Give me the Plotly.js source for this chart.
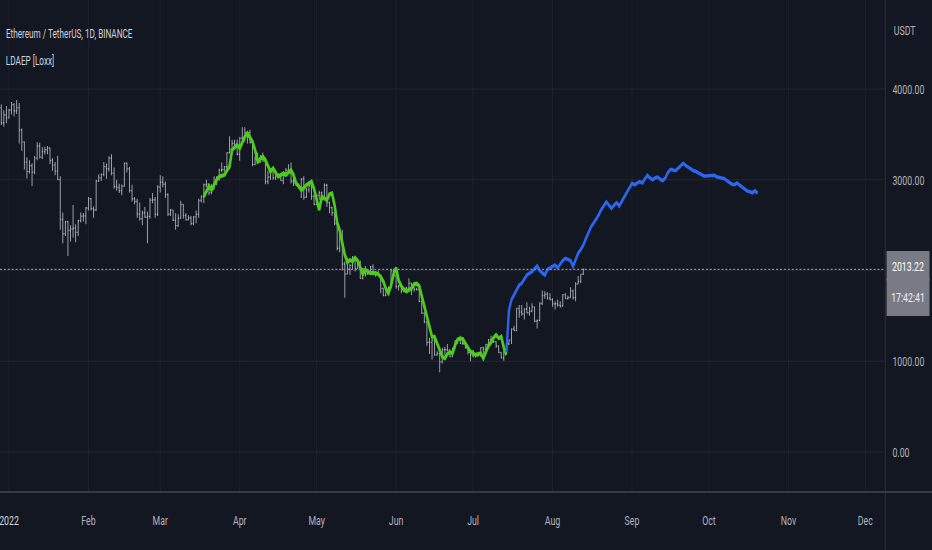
<!DOCTYPE html>
<html>
<head>
<meta charset="utf-8">
<script src="https://cdn.plot.ly/plotly-3.0.1.min.js"></script>
<style>
html,body{margin:0;padding:0;background:#131722;overflow:hidden;}
#wrap{width:932px;height:550px;overflow:hidden;background:#131722;position:relative;}
#chart{width:1434px;height:550px;transform:scaleX(0.65);transform-origin:0 0;}
</style>
</head>
<body>
<div id="wrap"><div id="chart"></div></div>
<script>
// ---------- DATA ----------
const barStart = '2021-12-29';
const barOpen = [3795,3628,3713,
3682,3769,3829,3761,3795,3549,3417,3194,3090,3155,3084,3238,3372,3249,3310,3330,3350,3212,3164,3095,3001,2562,2405,2539,2440,2458,2468,2420,2548,2599,2602,
2688,2790,2682,2666,2988,3021,3059,3145,3121,3237,3073,2926,2914,2880,2928,3182,3120,2880,2790,2760,2623,2571,2637,2587,2597,2775,2780,2620,
2920,2972,2950,2836,2622,2665,2553,2494,2576,2727,2606,2560,2578,2518,2591,2619,2772,2814,2945,2950,2858,2898,2970,3031,3108,3112,3144,3297,3335,3400,3385,
3281,3457,3444,3522,3522,3410,3169,3232,3190,3261,3207,2980,3030,3118,3020,3040,3060,2992,3060,3104,3077,2986,2964,2935,2922,3008,2808,2888,2936,2817,
2729,2827,2857,2783,2940,2749,2694,2636,2518,2245,2343,2072,1961,2014,2057,2145,2023,2091,1913,2017,1961,1974,2043,1972,1978,1943,1803,1724,1793,1813,1996,
1942,1823,1834,1775,1804,1806,1859,1812,1792,1790,1660,1530,1434,1208,1208,1233,1068,1087,993,1127,1127,1124,1051,1143,1224,1243,1199,1193,1144,1098,
1067,1059,1067,1074,1150,1134,1186,1238,1213,1216,1168,1097,1037,1112,1192,1233,1356,1339,1582,1543,1521,1575,1535,1551,1599,1440,1450,1636,1723,1738,1696,
1680,1632,1633,1618,1608,1734,1692,1702,1776,1701,1852,1880,1958];
const barHigh = [3830,3767,3813,
3780,3857,3842,3878,3845,3565,3425,3247,3214,3181,3263,3414,3409,3358,3365,3372,3354,3238,3197,3264,3038,2640,2548,2545,2500,2722,2510,2560,2640,2634,2700,
2810,2800,2705,2998,3060,3070,3196,3180,3260,3280,3135,3000,2957,2948,3190,3190,3140,2945,2810,2790,2750,2660,2700,2650,2800,2855,2810,2940,
3050,3040,2980,2850,2680,2670,2630,2620,2770,2730,2630,2610,2600,2600,2660,2790,2830,2960,3000,2960,2950,3040,3040,3120,3190,3150,3300,3480,3440,3440,3445,
3470,3580,3580,3540,3550,3415,3260,3300,3270,3300,3210,3100,3130,3140,3050,3070,3070,3070,3130,3170,3190,3030,2980,2960,3020,3040,2910,2980,2950,2840,
2840,2880,2870,2960,2955,2760,2700,2640,2530,2450,2450,2100,2140,2070,2160,2150,2110,2110,2030,2050,1985,2050,2070,1995,2000,1950,1810,1800,1825,2010,2020,
1970,1840,1840,1810,1820,1915,1862,1830,1810,1800,1670,1540,1440,1260,1250,1240,1110,1090,1150,1160,1190,1130,1150,1230,1250,1280,1230,1210,1145,1105,
1125,1075,1080,1155,1160,1190,1245,1280,1230,1220,1170,1100,1115,1200,1240,1360,1390,1590,1620,1620,1580,1650,1600,1640,1600,1460,1650,1780,1770,1760,1750,
1695,1660,1680,1660,1740,1750,1725,1815,1790,1870,1940,1960,2020];
const barLow = [3604,3585,3622,
3676,3720,3697,3724,3400,3320,3112,3015,3070,2928,3061,3216,3233,3228,3277,3280,3170,3100,3050,2994,2450,2300,2380,2159,2320,2365,2310,2380,2530,2540,2510,
2660,2660,2580,2656,2975,2985,3040,3010,3090,3050,2900,2880,2855,2830,2925,3080,2860,2760,2730,2580,2550,2500,2580,2300,2570,2740,2580,2600,
2860,2915,2800,2600,2600,2545,2450,2480,2575,2570,2550,2550,2500,2500,2520,2580,2750,2740,2920,2830,2840,2890,2940,2990,3080,3090,3110,3290,3320,3340,3270,
3210,3440,3420,3400,3400,3150,3160,3180,3185,3200,2950,2950,3000,3000,3000,3020,2990,2950,3030,3070,2960,2930,2930,2900,2800,2780,2800,2860,2780,2720,
2720,2780,2770,2780,2700,2630,2600,2500,2220,2200,2000,1700,1960,1950,2010,1990,2020,1910,1900,1930,1950,1960,1960,1930,1940,1750,1720,1720,1770,1810,1920,
1800,1780,1750,1760,1790,1795,1730,1765,1780,1650,1520,1420,1170,1080,1020,1060,1060,880,975,1070,1110,1045,1050,1140,1190,1195,1180,1140,1075,1000,
1040,1040,1050,1050,1080,1110,1165,1200,1205,1150,1090,1030,1005,1085,1180,1190,1335,1330,1480,1500,1460,1530,1500,1540,1430,1360,1440,1620,1690,1680,1670,
1600,1570,1600,1590,1600,1690,1680,1700,1680,1660,1850,1860,1950];
const barClose = [3628,3713,3682,
3769,3829,3761,3795,3549,3417,3194,3090,3155,3084,3238,3372,3249,3310,3330,3350,3212,3164,3095,3001,2562,2405,2539,2440,2458,2468,2420,2548,2599,2602,2688,
2790,2682,2666,2988,3021,3059,3145,3121,3237,3073,2926,2914,2880,2928,3182,3120,2880,2790,2760,2623,2571,2637,2587,2597,2775,2780,2620,2920,
2972,2950,2836,2622,2665,2553,2494,2576,2727,2606,2560,2578,2518,2591,2619,2772,2814,2945,2950,2858,2898,2970,3031,3108,3112,3144,3297,3335,3400,3385,3281,
3457,3444,3522,3522,3410,3169,3232,3190,3261,3207,2980,3030,3118,3020,3040,3060,2992,3060,3104,3077,2986,2964,2935,2922,3008,2808,2888,2936,2817,2729,
2827,2857,2783,2940,2749,2694,2636,2518,2245,2343,2072,1961,2014,2057,2145,2023,2091,1913,2017,1961,1974,2043,1972,1978,1943,1803,1724,1793,1813,1996,1942,
1823,1834,1775,1804,1806,1859,1812,1792,1790,1660,1530,1434,1208,1208,1233,1068,1087,993,1127,1127,1124,1051,1143,1224,1243,1199,1193,1144,1098,1067,
1059,1067,1074,1150,1134,1186,1238,1213,1216,1168,1097,1037,1112,1192,1233,1356,1339,1582,1543,1521,1575,1535,1551,1599,1440,1450,1636,1723,1738,1696,1680,
1632,1633,1618,1608,1734,1692,1702,1776,1701,1852,1880,1958,2013.22];

const greenStart = '2022-03-18';
const greenValues = [2813,2870,2931,2887,2950,3000,3034,3045,3052,3100,3144,3328,3360,3383,3346,3420,3475,3512,3470,3419,
3328,3200,3230,3254,3218,3150,3089,3126,3080,3034,3050,3071,3052,3080,3107,3052,2960,2930,2887,2910,
2942,2960,2979,2900,2780,2667,2813,2790,2777,2840,2851,2720,2530,2440,2300,2170,2090,2116,2100,2140,
2110,2030,1960,2006,1990,1969,1975,1969,1960,1930,1880,1800,1749,1830,1960,2030,1890,1830,1790,1767,
1785,1804,1850,1855,1830,1712,1600,1490,1390,1271,1271,1200,1120,1050,1032,1080,1100,1087,1180,1240,
1250,1245,1198,1150,1105,1090,1069,1080,1087,1032,1110,1170,1205,1260,1289,1253,1271,1150,1069];

const blueStart = '2022-07-14';
const blueValues = [1100,1560,1680,1730,1790,1840,1859,1900,1950,1970,1987,2020,2050,2000,1975,1950,2010,2030,2045,2061,
2030,2070,2110,2134,2120,2110,2045,2120,2190,2230,2280,2350,2420,2480,2520,2560,2612,2670,2710,2755,
2720,2685,2720,2747,2711,2760,2800,2850,2910,2960,2945,2960,2979,2965,3010,3050,3020,3000,3020,3030,
3005,2990,3020,3080,3115,3110,3100,3126,3150,3181,3155,3135,3120,3100,3090,3075,3060,3041,3041,3045,
3055,3050,3034,3030,3020,3012,2990,2972,2950,2945,2965,2940,2920,2895,2875,2868,2857,2879,2850];

const monthTicks = ['2022-01-01','2022-02-01','2022-03-01','2022-04-01','2022-05-01','2022-06-01','2022-07-01','2022-08-01','2022-09-01','2022-10-01','2022-11-01','2022-12-01'];
const monthLabels = ['2022','Feb','Mar','Apr','May','Jun','Jul','Aug','Sep','Oct','Nov','Dec'];
const priceTicks = [0,1000,2000,3000,4000];
const priceLabels = ['0.00','1000.00','','3000.00','4000.00'];
const lastPrice = 2013.22;
const countdown = '17:42:41';
const titleText = 'Ethereum / TetherUS, 1D, BINANCE';
const indicatorText = 'LDAEP [Loxx]';
const currencyText = 'USDT';

// ---------- BUILD ----------
function days(start, n){
  const p = start.split('-').map(Number);
  const t0 = Date.UTC(p[0], p[1]-1, p[2]);
  const out = [];
  for(let i=0;i<n;i++){ out.push(new Date(t0 + i*86400000).toISOString().slice(0,10)); }
  return out;
}

const W = 1434, H = 550;
const plotRight = 72;
const plotBottom = 58;
const plotH = H - plotBottom;

const traces = [
  {
    type:'ohlc', x: days(barStart, barClose.length),
    open: barOpen, high: barHigh, low: barLow, close: barClose,
    increasing:{line:{color:'#a8abb4', width:1.4}},
    decreasing:{line:{color:'#a8abb4', width:1.4}},
    tickwidth:0.35, hoverinfo:'skip'
  },
  {
    type:'scatter', mode:'lines', x: days(greenStart, greenValues.length), y: greenValues,
    line:{color:'#4ccd1c', width:4}, hoverinfo:'skip'
  },
  {
    type:'scatter', mode:'lines', x: days(blueStart, blueValues.length), y: blueValues,
    line:{color:'#2d66ee', width:3.6}, hoverinfo:'skip'
  }
];

const fontFam = 'Roboto, "Liberation Sans", sans-serif';
const tickLabels = monthLabels.map((t,i)=> i===0 ? '<span style="color:#d1d4dc">'+t+'</span>' : t);

const layout = {
  width: W, height: H,
  paper_bgcolor:'#131722', plot_bgcolor:'#131722',
  margin:{l:0, r:plotRight, t:0, b:plotBottom, pad:0},
  showlegend:false,
  font:{family:fontFam, color:'#b2b5be', size:13},
  xaxis:{
    type:'date', range:['2021-12-28 12:00','2022-12-08 19:00'],
    tickvals: monthTicks, ticktext: tickLabels,
    showgrid:true, gridcolor:'#1e222d', gridwidth:1.4,
    zeroline:false, showline:false, ticks:'',
    ticklabelstandoff:19, ticklabeloverflow:'allow',
    tickfont:{family:fontFam, size:13.5, color:'#b2b5be'},
    rangeslider:{visible:false}, fixedrange:true
  },
  yaxis:{
    side:'right', range:[-441, 4981],
    tickvals: priceTicks, ticktext: priceLabels,
    showgrid:true, gridcolor:'#262a35', gridwidth:1,
    zeroline:false, showline:false, ticks:'',
    ticklabelstandoff:10,
    tickfont:{family:fontFam, size:13.5, color:'#b2b5be'},
    fixedrange:true
  },
  shapes:[
    {type:'line', xref:'paper', yref:'y', x0:0, x1:1, y0:lastPrice, y1:lastPrice,
     line:{color:'#8a8d96', width:1.2, dash:'dot'}, layer:'above'},
    {type:'line', xref:'paper', yref:'paper', x0:1, x1:1, y0:-plotBottom/plotH, y1:1,
     line:{color:'#2a2e39', width:1.6}},
    {type:'line', xref:'paper', yref:'paper', x0:0, x1:(W)/(W-plotRight), y0:0, y1:0,
     line:{color:'#363a45', width:2}}
  ],
  annotations:[
    {xref:'paper', yref:'paper', x:0, y:1-33/plotH, xanchor:'left', yanchor:'middle', xshift:7,
     text:titleText, showarrow:false, font:{family:fontFam, size:12.6, color:'#d1d4dc'}},
    {xref:'paper', yref:'paper', x:0, y:1-60/plotH, xanchor:'left', yanchor:'middle', xshift:7,
     text:indicatorText, showarrow:false, font:{family:fontFam, size:12.6, color:'#d1d4dc'}},
    {xref:'paper', yref:'paper', x:1, y:1-30/plotH, xanchor:'left', yanchor:'middle', xshift:11,
     text:currencyText, showarrow:false, font:{family:fontFam, size:13.5, color:'#b2b5be'}},
    {xref:'paper', yref:'y', x:1, y:lastPrice, xanchor:'left', yanchor:'top', xshift:2, yshift:-9,
     text:countdown, showarrow:false, align:'center',
     width:64, height:36, borderpad:1, borderwidth:0, bgcolor:'#787b86',
     font:{family:fontFam, size:13.5, color:'#f0f1f4'}},
    {xref:'paper', yref:'y', x:1, y:lastPrice, xanchor:'left', yanchor:'middle', xshift:2, yshift:3,
     text:lastPrice.toFixed(2), showarrow:false, align:'center',
     width:64, height:28, borderpad:1, borderwidth:0, bgcolor:'#787b86',
     font:{family:fontFam, size:13.5, color:'#ffffff'}}
  ]
};

Plotly.newPlot('chart', traces, layout, {displayModeBar:false, staticPlot:true});
</script>
</body>
</html>
